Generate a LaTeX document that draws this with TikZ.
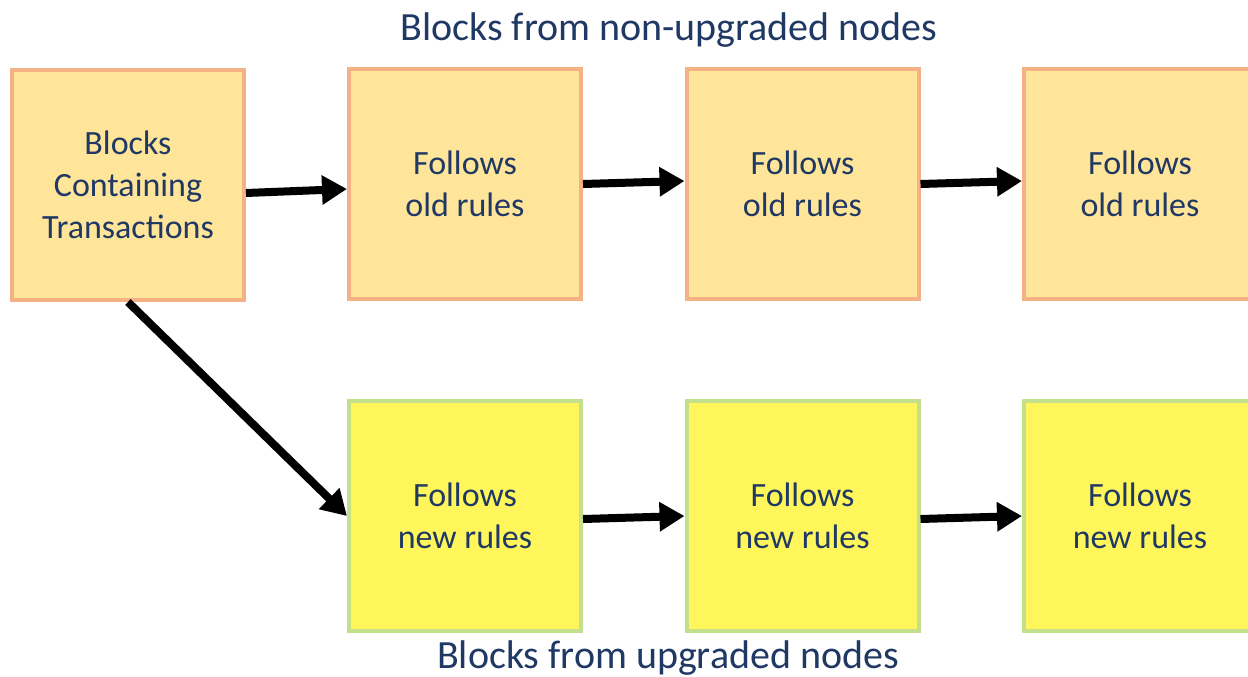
\documentclass[tikz,border=0pt]{standalone}
\usepackage{fontspec}
\setmainfont{Carlito}
\usetikzlibrary{arrows.meta}
\definecolor{txt}{RGB}{32,56,100}
\definecolor{oldfill}{RGB}{255,229,153}
\definecolor{oldline}{RGB}{244,177,131}
\definecolor{newfill}{RGB}{255,246,92}
\definecolor{newline}{RGB}{197,224,140}
\tikzset{
  blk/.style={minimum width=232pt,minimum height=230pt,line width=4pt,align=center,
    text=txt,font=\fontsize{34}{42}\selectfont,inner sep=0pt},
  oldblk/.style={blk,fill=oldfill,draw=oldline},
  newblk/.style={blk,fill=newfill,draw=newline},
  arr/.style={line width=8pt,-{Triangle[length=25pt,width=28pt]}},
  ttl/.style={text=txt,font=\fontsize{40}{46}\selectfont}
}
\begin{document}
\begin{tikzpicture}[x=1pt,y=-1pt]
\useasboundingbox (0,0) rectangle (1248,677);
\begin{scope}
\clip (0,0) rectangle (1248,677);
\node[oldblk] (b0) at (128,185) {Blocks\\Containing\\Transactions};
\node[oldblk] (b1) at (465,184) {Follows\\old rules};
\node[oldblk] (b2) at (802.5,184) {Follows\\old rules};
\node[oldblk] (b3) at (1140,184) {Follows\\old rules};
\node[newblk] (n1) at (465,516) {Follows\\new rules};
\node[newblk] (n2) at (802.5,516) {Follows\\new rules};
\node[newblk] (n3) at (1140,516) {Follows\\new rules};
\end{scope}
\node[ttl] (t1) at (669,30) {Blocks from non-upgraded nodes};
\node[ttl] (t2) at (668,658) {Blocks from upgraded nodes};
\draw[arr] ([yshift=-8pt]b0.east) -- ([yshift=-5pt]b1.west);
\draw[arr] ([yshift=0pt]b1.east) -- ([yshift=3pt]b2.west);
\draw[arr] ([yshift=0pt]b2.east) -- ([yshift=3pt]b3.west);
\draw[arr] ([yshift=-3pt]n1.east) -- ([yshift=0pt]n2.west);
\draw[arr] ([yshift=-3pt]n2.east) -- ([yshift=0pt]n3.west);
\draw[arr] (b0.south) -- (n1.west);
\end{tikzpicture}
\end{document}
